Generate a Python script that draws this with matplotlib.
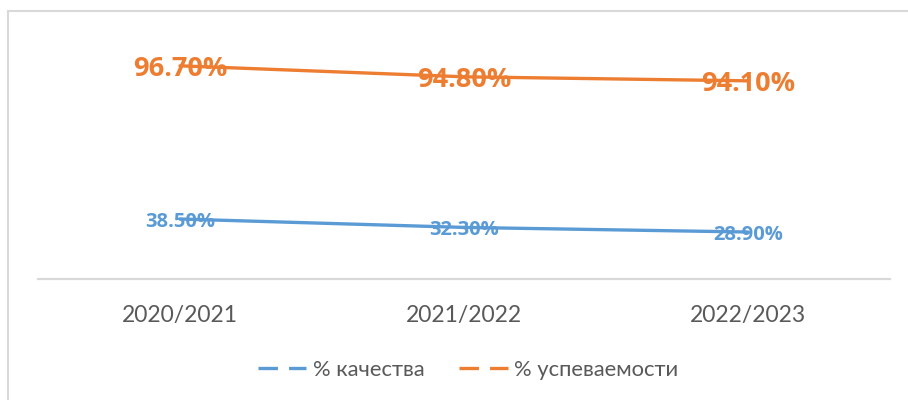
import matplotlib
matplotlib.use('Agg')
import matplotlib.pyplot as plt
from matplotlib.lines import Line2D
from matplotlib.patches import Rectangle

years = ["2020/2021", "2021/2022", "2022/2023"]
quality = [38.5, 32.3, 28.9]
progress = [96.7, 94.8, 94.1]
quality_label = "% качества"
progress_label = "% успеваемости"

blue = "#5B9BD5"
orange = "#ED7D31"
grey_text = "#595959"
grey_line = "#D9D9D9"

plt.rcParams['font.family'] = ['Lato', 'DejaVu Sans']
plt.rcParams['lines.scale_dashes'] = False

fig = plt.figure(figsize=(9.08, 4.0), dpi=100)
# outer chart border (cropped on right/bottom)
fig.patches.append(Rectangle((8 / 908, -0.1), 1.2, 1 - 11 / 400 + 0.1,
                             transform=fig.transFigure, fill=False,
                             edgecolor=grey_line, linewidth=1.5))

ax1 = fig.add_axes([38 / 908, 1 - 279 / 400, (890 - 38) / 908, (279 - 30) / 400])
ax2 = ax1.twinx()
x = list(range(len(years)))

ax1.plot(x, quality, color=blue, linewidth=2.4, solid_capstyle='round')
ax2.plot(x, progress, color=orange, linewidth=2.4, solid_capstyle='round')

ax1.set_xlim(-0.5, len(years) - 0.5)
ax1.set_ylim(-5.8, 178.1)
ax2.set_ylim(59.8, 102.9)

for ax in (ax1, ax2):
    for s in ["top", "right", "left"]:
        ax.spines[s].set_visible(False)
    ax.spines["bottom"].set_color(grey_line)
    ax.spines["bottom"].set_linewidth(1.5)
    ax.set_yticks([])
    ax.patch.set_visible(False)

ax1.set_xticks(x)
ax1.set_xticklabels(years, fontsize=16.5, color=grey_text)
ax1.tick_params(axis='x', length=0, pad=19)

label_font = ['Open Sans', 'DejaVu Sans']
for xi, v in zip(x, quality):
    ax1.annotate("%.2f%%" % v, (xi, v), xytext=(0, -2), textcoords='offset points',
                 ha='center', va='center', fontsize=14.5, fontweight='bold',
                 color=blue, family=label_font)
for xi, v in zip(x, progress):
    ax2.annotate("%.2f%%" % v, (xi, v), xytext=(0, -2), textcoords='offset points',
                 ha='center', va='center', fontsize=19.5, fontweight='bold',
                 color=orange, family=label_font)

handles = [Line2D([], [], color=blue, linewidth=2.4, dashes=(14, 8)),
           Line2D([], [], color=orange, linewidth=2.4, dashes=(14, 8))]
fig.legend(handles, [quality_label, progress_label], loc='center',
           bbox_to_anchor=(468 / 908, 1 - 370 / 400), ncol=2, frameon=False,
           fontsize=15.8, labelcolor=grey_text, handlelength=2.2,
           handletextpad=0.3, columnspacing=1.6)

fig.savefig("out.png", dpi=100)
